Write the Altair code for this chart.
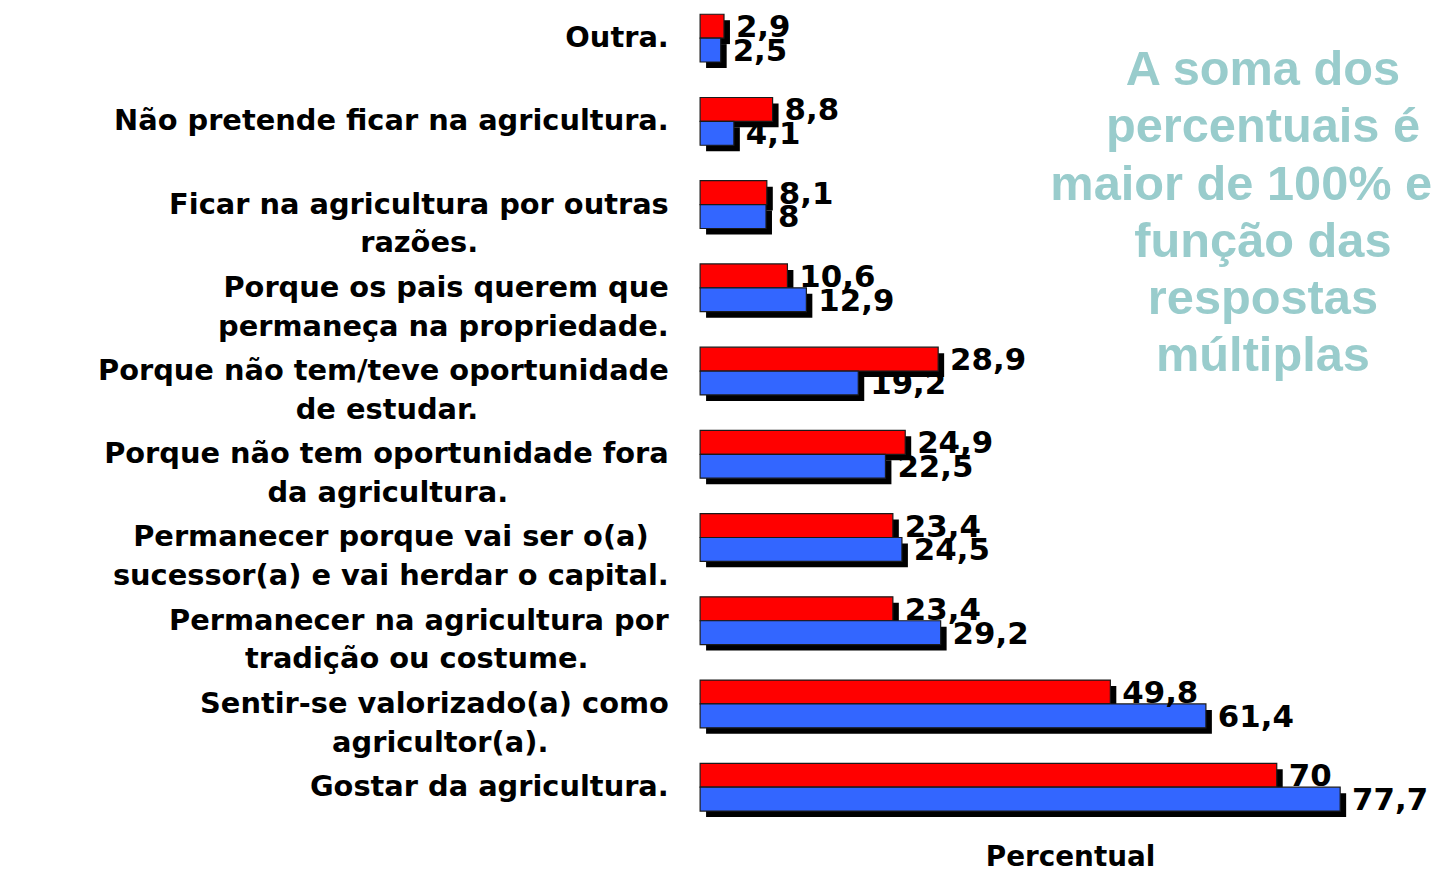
import altair as alt
import pandas as pd

categories = [
    "Outra.",
    "Não pretende ficar na agricultura.",
    "Ficar na agricultura por outras\nrazões.",
    "Porque os pais querem que\npermaneça na propriedade.",
    "Porque não tem/teve oportunidade\nde estudar.",
    "Porque não tem oportunidade fora\nda agricultura.",
    "Permanecer porque vai ser o(a)\nsucessor(a) e vai herdar o capital.",
    "Permanecer na agricultura por\ntradição ou costume.",
    "Sentir-se valorizado(a) como\nagricultor(a).",
    "Gostar da agricultura.",
]
series_names = ["Série 1", "Série 2"]
values_red = [2.9, 8.8, 8.1, 10.6, 28.9, 24.9, 23.4, 23.4, 49.8, 70]
values_blue = [2.5, 4.1, 8, 12.9, 19.2, 22.5, 24.5, 29.2, 61.4, 77.7]
series_colors = ["#FF0000", "#3366FF"]
note_text = "A soma dos\npercentuais é\nmaior de 100% em\nfunção das\nrespostas\nmúltiplas"

# layout only: non-breaking spaces appended to the shorter line so that the
# two lines of a right-aligned label look centred on each other
NBSP = "\u00a0"
ZWSP = "\u200b"
line_pad = {
    2: (0, 19), 4: (0, 19), 5: (0, 16), 6: (2, 0), 7: (0, 8), 8: (0, 12),
}


def display_label(i, text):
    lines = text.split("\n")
    if i in line_pad:
        pads = line_pad[i]
        lines = [ln + (NBSP * p + ZWSP if p else "") for ln, p in zip(lines, pads)]
    return "\n".join(lines)


labels_disp = [display_label(i, c) for i, c in enumerate(categories)]

rows = []
for lab, r, b in zip(labels_disp, values_red, values_blue):
    rows.append({"cat": lab, "serie": series_names[0], "v": r})
    rows.append({"cat": lab, "serie": series_names[1], "v": b})
df = pd.DataFrame(rows)

H = 809
P_IN, P_OUT = 0.426, 0.046
step = H / (len(categories) - P_IN + 2 * P_OUT)
bandw = step * (1 - P_IN)
SH = 6  # shadow offset in px

yscale = alt.Scale(paddingInner=P_IN, paddingOuter=P_OUT)

y_enc = alt.Y(
    "cat:N",
    sort=labels_disp,
    scale=yscale,
    axis=alt.Axis(
        title=None,
        domain=False,
        ticks=False,
        labelExpr="split(datum.label, '\\n')",
        labelFont="DejaVu Sans",
        labelFontWeight="bold",
        labelFontSize=29,
        labelColor="black",
        labelLineHeight=39,
        labelPadding=32,
        labelLimit=700,
        labelAlign="right",
        labelBaseline="middle",
    ),
)
x_enc = alt.X(
    "v:Q",
    scale=alt.Scale(domain=[0, 88], nice=False, zero=True),
    axis=alt.Axis(
        title="Percentual",
        labels=False,
        ticks=False,
        domain=False,
        grid=False,
        titleFont="DejaVu Sans",
        titleFontWeight="bold",
        titleFontSize=28,
        titleColor="black",
        titleBaseline="alphabetic",
        titleY=51,
        titleX=372,
    ),
)
yoff = alt.YOffset("serie:N", sort=series_names, scale=alt.Scale(paddingInner=0, paddingOuter=0))
yoff_shadow = alt.YOffset(
    "serie:N", sort=series_names,
    scale=alt.Scale(paddingInner=0, paddingOuter=0, range=[SH, SH + bandw]),
)

base = alt.Chart(df)

shadow = base.mark_bar(color="black", xOffset=SH, x2Offset=SH).encode(
    x=x_enc, y=y_enc, yOffset=yoff_shadow
)

bars = base.mark_bar(stroke="#1a1a1a", strokeWidth=1.2).encode(
    x=x_enc,
    y=y_enc,
    yOffset=yoff,
    color=alt.Color("serie:N", scale=alt.Scale(domain=series_names, range=series_colors), legend=None),
)

labels = base.transform_calculate(
    lab="replace(toString(datum.v), '.', ',')"
).mark_text(
    align="left", baseline="middle", dx=12, dy=2,
    font="DejaVu Sans", fontWeight="bold", fontSize=31, color="black",
).encode(x=x_enc, y=y_enc, yOffset=yoff, text="lab:N")

note = alt.Chart(pd.DataFrame({"t": [note_text]})).mark_text(
    align="center", baseline="alphabetic", lineBreak="\n", lineHeight=57.6,
    font="Liberation Sans", fontWeight="bold", fontSize=49, color="#99CCCC",
).encode(x=alt.value(566), y=alt.value(75), text="t:N")

front = alt.layer(bars, labels, note)

chart = alt.layer(shadow, front).resolve_scale(
    yOffset="independent"
).properties(
    width=729,
    height=H,
    autosize=alt.AutoSizeParams(type="none"),
    padding={"left": 696, "top": 0, "right": 6, "bottom": 59},
).configure_view(stroke=None)

chart.save("out.html", embed_options={"renderer": "svg", "actions": False})
